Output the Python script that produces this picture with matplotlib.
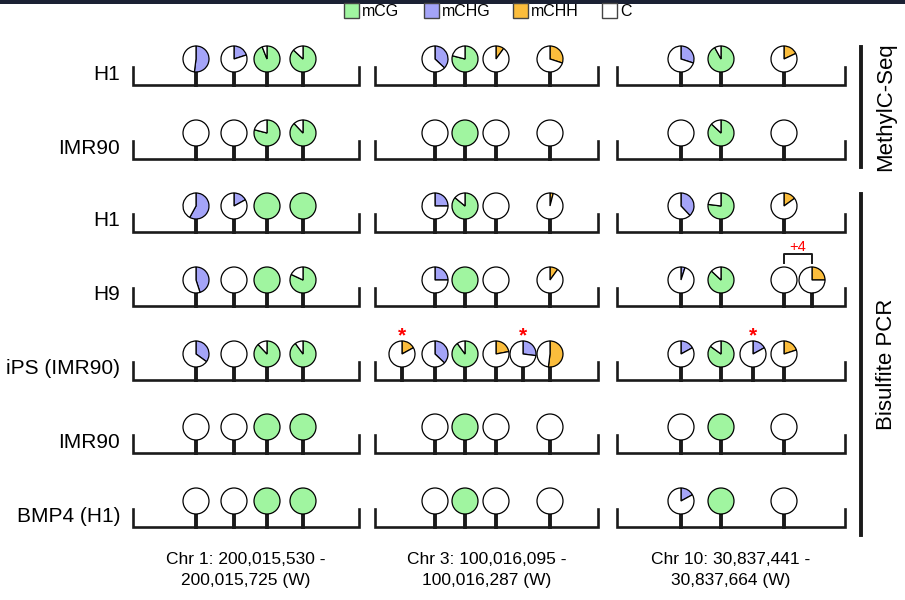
import matplotlib
matplotlib.use("Agg")
import matplotlib.pyplot as plt
from matplotlib.patches import Wedge, Rectangle

plt.rcParams['font.family'] = ['Liberation Sans', 'DejaVu Sans']

# colours for mCG, mCHG, mCHH, unmethylated C
colors = ['#a0f5a0', '#a4a4f8', '#fbbd3c', 'white']
legend_labels = ['mCG', 'mCHG', 'mCHH', 'C']

row_labels = ['H1', 'IMR90', 'H1', 'H9', 'iPS (IMR90)', 'IMR90', 'BMP4 (H1)']
region_labels = ['Chr 1: 200,015,530 -\n200,015,725 (W)',
                 'Chr 3: 100,016,095 -\n100,016,287 (W)',
                 'Chr 10: 30,837,441 -\n30,837,664 (W)']
group_labels = ['MethylC-Seq', 'Bisulfite PCR']
group_rows = [(0, 1), (2, 6)]

# site positions along each region (figure px units)
region_span = [(133, 359), (375, 598), (617, 845)]
sites = [[196, 234, 267, 303],
         [402, 435, 465, 496, 523, 550],
         [681, 721, 753, 784, 812]]

W = (0, 0, 0)
G = (1, 0, 0)
N = None
# (mCG, mCHG, mCHH) fraction per site, one list per region per row
region1 = [
    [(0, .52, 0), (0, .2, 0), (.94, 0, 0), (.87, 0, 0)],
    [W, W, (.79, 0, 0), (.88, 0, 0)],
    [(0, .58, 0), (0, .17, 0), G, G],
    [(0, .45, 0), W, G, (.82, 0, 0)],
    [(0, .35, 0), W, (.88, 0, 0), (.9, 0, 0)],
    [W, W, G, G],
    [W, W, G, G],
]
region2 = [
    [N, (0, .37, 0), (.79, 0, 0), (0, 0, .1), N, (0, 0, .3)],
    [N, W, G, W, N, W],
    [N, (0, .25, 0), (.86, 0, 0), W, N, (0, 0, .04)],
    [N, (0, .25, 0), G, W, N, (0, 0, .1)],
    [(0, 0, .17), (0, .37, 0), (.9, 0, 0), (0, 0, .22), (0, .27, 0), (0, 0, .52)],
    [N, W, G, W, N, W],
    [N, W, G, W, N, W],
]
region3 = [
    [(0, .3, 0), (.92, 0, 0), N, (0, 0, .18), N],
    [W, (.87, 0, 0), N, W, N],
    [(0, .38, 0), (.77, 0, 0), N, (0, 0, .15), N],
    [(0, .05, 0), (.87, 0, 0), N, W, (0, 0, .25)],
    [(0, .17, 0), (.85, 0, 0), (0, .17, 0), (0, 0, .2), N],
    [W, G, N, W, N],
    [(0, .17, 0), G, N, W, N],
]
regions = [region1, region2, region3]

# (row, region, site) marked with a red star
stars = [(4, 1, 0), (4, 1, 4), (4, 2, 2)]
# (row, region, first site, last site, text)
brackets = [(3, 2, 3, 4, '+4')]

baselines = [85, 159, 232, 306, 380, 453, 527]
r = 13

fig = plt.figure(figsize=(9.05, 6.0), dpi=100)
ax = fig.add_axes([0, 0, 1, 1])
ax.set_xlim(0, 905)
ax.set_ylim(600, 0)
ax.axis('off')

# dark strip at the top
ax.add_patch(Rectangle((0, 0), 905, 4, color='#1b2133', lw=0))

# legend
lx = [344, 424, 513, 602]
for x, c, lab in zip(lx, colors, legend_labels):
    ax.add_patch(Rectangle((x, 3), 15, 15, facecolor=c, edgecolor='#444444', lw=1))
    ax.text(x + 18, 11, lab, fontsize=11.5, va='center', ha='left')


def draw_pie(x, y, frac):
    # y axis is flipped: -90 is 12 o'clock and growing angles run clockwise
    vals = list(frac) + [1 - sum(frac)]
    start = -90
    for v, c in zip(vals, colors):
        if v <= 0:
            continue
        ax.add_patch(Wedge((x, y), r, start, start + 360 * v, facecolor=c,
                           edgecolor='black', lw=0.9, zorder=3))
        start += 360 * v


for i, base in enumerate(baselines):
    ax.text(120, base - 11, row_labels[i], fontsize=15, ha='right', va='center')
    for k, (x0, x1) in enumerate(region_span):
        ax.plot([x0, x0, x1, x1], [base - 18, base, base, base - 18],
                color='#1a1a1a', lw=1.9, solid_joinstyle='miter', zorder=2)
        for sx, frac in zip(sites[k], regions[k][i]):
            if frac is None:
                continue
            cy = base - 26
            ax.plot([sx, sx], [cy + r, base], color='#1a1a1a', lw=2.8, zorder=2)
            draw_pie(sx, cy, frac)

for i, k, s in stars:
    ax.text(sites[k][s], baselines[i] - 44, '*', color='red', fontsize=15,
            ha='center', va='center', fontweight='bold')

for i, k, s0, s1, lab in brackets:
    xa, xb = sites[k][s0], sites[k][s1]
    yb = baselines[i] - 52
    ax.plot([xa, xa, xb, xb], [yb + 9, yb, yb, yb + 9], color='#1a1a1a', lw=1.4)
    ax.text((xa + xb) / 2, yb - 7, lab, color='red', fontsize=10.5,
            ha='center', va='center')

for (x0, x1), lab in zip(region_span, region_labels):
    ax.text((x0 + x1) / 2, 570, lab, fontsize=12.5, ha='center', va='center',
            linespacing=1.5)

for (a, b), lab in zip(group_rows, group_labels):
    top = baselines[a] - 38
    bot = baselines[b] + 8
    ax.plot([861, 861], [top, bot], color='#1a1a1a', lw=2.8)
    ax.text(886, (top + bot) / 2, lab, fontsize=16, rotation=90,
            ha='center', va='center')

fig.savefig('out.png', dpi=100)
